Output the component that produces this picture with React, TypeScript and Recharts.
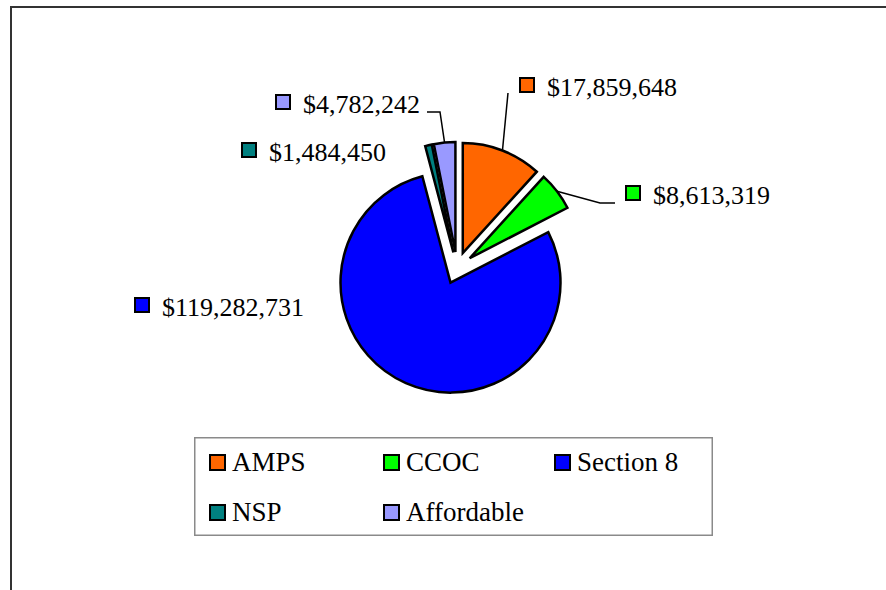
import { Legend, Pie, PieChart, Sector } from "recharts";

const NAMES = ["AMPS", "CCOC", "Section 8", "NSP", "Affordable"];
const AMOUNTS = [17859648, 8613319, 119282731, 1484450, 4782242];
const COLORS = ["#FF6600", "#00FF00", "#0000FF", "#008080", "#9999FF"];

// label layout, relative to pie centre: marker top-left + leader bends
const LABEL_BOX = [
  [63, -190],
  [169, -82],
  [-322, 30],
  [-215, -125],
  [-181, -173],
];
const LEADERS: number[][][] = [
  [[51, -175]],
  [[143, -65], [158, -65]],
  [],
  [],
  [[-17, -156], [-30, -156]],
];

const RAD = Math.PI / 180;
const EXPLODE = 16;
const FONT = "Liberation Serif";

const data = NAMES.map((name, i) => ({ name, value: AMOUNTS[i], fill: COLORS[i] }));

const money = (v: number) => "$" + v.toLocaleString("en-US");

function ExplodedSector(props: any) {
  const dx = EXPLODE * Math.cos(-props.midAngle * RAD);
  const dy = EXPLODE * Math.sin(-props.midAngle * RAD);
  return (
    <Sector
      {...props}
      cx={props.cx + dx}
      cy={props.cy + dy}
      stroke="#000"
      strokeWidth={2.5}
      strokeLinejoin="miter"
    />
  );
}

function SliceLabel(props: any) {
  const { cx, cy, midAngle, outerRadius, index, value } = props;
  const cos = Math.cos(-midAngle * RAD);
  const sin = Math.sin(-midAngle * RAD);
  const ax = cx + (EXPLODE + outerRadius) * cos;
  const ay = cy + (EXPLODE + outerRadius) * sin;
  const [bx, by] = LABEL_BOX[index];
  const bends = LEADERS[index];
  const pts = [[ax, ay], ...bends.map(([x, y]) => [cx + x, cy + y])];
  return (
    <g>
      {bends.length > 0 && (
        <polyline
          points={pts.map((p) => p.join(",")).join(" ")}
          fill="none"
          stroke="#000"
          strokeWidth={1.5}
        />
      )}
      <rect
        x={cx + bx}
        y={cy + by}
        width={14}
        height={14}
        fill={COLORS[index]}
        stroke="#000"
        strokeWidth={2}
      />
      <text
        x={cx + bx + 27}
        y={cy + by + 18}
        style={{ fontFamily: FONT, fontSize: 26 }}
        fill="#000"
      >
        {money(value)}
      </text>
    </g>
  );
}

const LEG_COLS = [16, 190, 361];

function LegendBox() {
  return (
    <svg width={519} height={99} style={{ display: "block" }}>
      <rect x={0.75} y={0.75} width={517.5} height={97.5} fill="#fff" stroke="#8a8a8a" strokeWidth={1.5} />
      {NAMES.map((name, i) => {
        const x = LEG_COLS[i % 3];
        const y = i < 3 ? 18 : 68;
        return (
          <g key={name}>
            <rect x={x} y={y} width={15} height={15} fill={COLORS[i]} stroke="#000" strokeWidth={2} />
            <text x={x + 22} y={y + 16} style={{ fontFamily: FONT, fontSize: 27 }} fill="#000">
              {name}
            </text>
          </g>
        );
      })}
    </svg>
  );
}

export default function App() {
  return (
    <div
      style={{
        position: "fixed",
        left: 0,
        top: 0,
        width: 886,
        height: 590,
        overflow: "hidden",
        background: "#fff",
        fontFamily: FONT,
      }}
    >
      <div
        style={{
          position: "absolute",
          left: 10,
          top: 6,
          width: 1000,
          height: 1000,
          borderLeft: "2px solid #333",
          borderTop: "2px solid #333",
        }}
      />
      <PieChart
        width={886}
        height={590}
        margin={{ top: 0, right: 0, bottom: 0, left: 0 }}
        style={{ position: "absolute", left: 0, top: 0 }}
      >
        <Pie
          data={data}
          dataKey="value"
          nameKey="name"
          cx={457}
          cy={268}
          outerRadius={110}
          startAngle={90}
          endAngle={-270}
          paddingAngle={0}
          shape={ExplodedSector}
          label={SliceLabel}
          labelLine={false}
          isAnimationActive={false}
        />
        <Legend
          content={() => <LegendBox />}
          wrapperStyle={{ position: "absolute", left: 194, top: 437, width: 519, height: 99 }}
        />
      </PieChart>
    </div>
  );
}
